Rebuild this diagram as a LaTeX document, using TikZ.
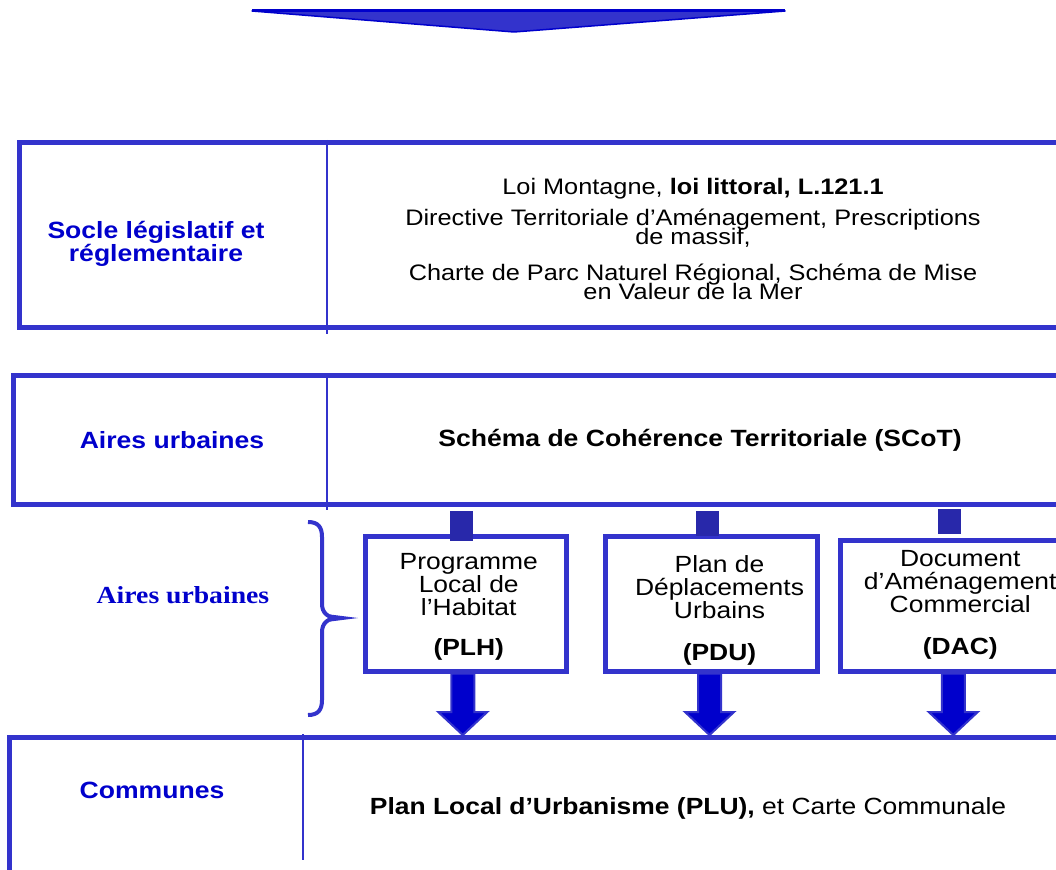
\documentclass[tikz,border=0pt]{standalone}
\usepackage{fontspec}
\setmainfont{Liberation Sans}[FakeStretch=1.13]
\newfontfamily\serifbf{Liberation Serif}[FakeStretch=1.13]
\usetikzlibrary{calc}
\definecolor{bandblue}{RGB}{51,51,204}
\definecolor{labelblue}{RGB}{0,0,204}
\definecolor{tabblue}{RGB}{40,40,170}
\newcommand{\tightlines}{\lineskiplimit=-100pt\relax}

\begin{document}
\begin{tikzpicture}[x=1pt,y=-1pt,font=\fontsize{23.4}{23}\selectfont\tightlines,
  band/.style={draw=bandblue,line width=5pt,inner sep=0pt},
  doc/.style={draw=bandblue,line width=5pt,inner sep=0pt,minimum height=135pt},
  doctxt/.style={align=center,inner sep=0pt},
  lbl/.style={text=labelblue,font=\fontsize{23.5}{23.5}\selectfont\tightlines\bfseries,align=center},
  divider/.style={draw=bandblue,line width=2.5pt},
  blockarr/.style={fill=labelblue,draw=bandblue,line width=2pt,line join=miter},
  tab/.style={fill=tabblue}]
  \useasboundingbox (0,0) rectangle (1056,869);
  \clip (0,0) rectangle (1056,869);

  % arrow on top
  \filldraw[fill=bandblue,draw=labelblue,line width=1.5pt,line join=round] (252,11) -- (785,11) -- (514,32) -- cycle;
  \draw[labelblue,line width=3pt] (252,11) -- (785,11);

  % bands
  \node[band,minimum width=1045.5pt,minimum height=185pt] (socle) at (542.25,235) {};
  \node[band,minimum width=1051.5pt,minimum height=129pt] (aires) at (539.25,440) {};
  \node[band,minimum width=1055.5pt,minimum height=147.5pt] (comm) at (537.25,811.25) {};
  \draw[divider] (327,140) -- (327,334);
  \draw[divider] (327,373) -- (327,510);
  \draw[divider] (303,734) -- (303,860);

  % labels left
  \node[lbl] (lsocle) at (156,244) {Socle législatif et\\réglementaire};
  \node[lbl] (laires) at (172,440) {Aires urbaines};
  \node[lbl,font=\fontsize{24.5}{25}\serifbf\bfseries] (lbrace) at (183,595) {Aires urbaines};
  \node[lbl] (lcomm) at (152,790) {Communes};

  % texts right
  \node[align=center,font=\fontsize{22.4}{18.5}\selectfont\tightlines] (tsocle) at (693,239)
    {Loi Montagne, \textbf{loi littoral, L.121.1}\\[12.5pt]
     Directive Territoriale d’Aménagement, Prescriptions\\de massif,\\[18pt]
     Charte de Parc Naturel Régional, Schéma de Mise\\en Valeur de la Mer};
  \node[font=\fontsize{23.5}{23}\selectfont\bfseries] (scot) at (700,440) {Schéma de Cohérence Territoriale (SCoT)};
  \node (plu) at (688,808) {\textbf{Plan Local d’Urbanisme (PLU),} et Carte Communale};

  % documents
  \node[doc,minimum width=200.5pt] (plh) at (465.75,603.5) {};
  \node[doc,minimum width=212pt] (pdu) at (711.5,603.5) {};
  \node[doc,minimum width=239.5pt,minimum height=130.5pt] (dac) at (960.25,605.75) {};
  \node[doctxt] (plhtxt) at ($(plh)+(3,3.5)$) {Programme\\Local de\\l’Habitat\\[17pt]\textbf{(PLH)}};
  \node[doctxt] (pdutxt) at ($(pdu)+(8,6.5)$) {Plan de\\Déplacements\\Urbains\\[19pt]\textbf{(PDU)}};
  \node[doctxt] (dactxt) at ($(dac)+(0,-1)$) {Document\\d’Aménagement\\Commercial\\[19pt]\textbf{(DAC)}};

  % tabs under SCoT
  \foreach \n/\dl/\dr/\t/\b in {plh/-15.75/7.25/-22.5/7.5,pdu/-15.5/7.5/-22.5/2.5,dac/-22.25/0.75/-29/-4}
    \fill[tab] ($(\n.north)+(\dl,\t)$) rectangle ($(\n.north)+(\dr,\b)$);

  % arrows down to the communes
  \foreach \n/\dx in {plh/-3,pdu/-2,dac/-7}
    \draw[blockarr] ($(\n.south)+(\dx-11.5,0)$) -- ++(0,38.5) -- ++(-13,0) -- ++(24.5,23)
      -- ++(24.5,-23) -- ++(-13,0) -- ++(0,-38.5) -- cycle;

  % brace
  \draw[bandblue,line width=4pt] (308,522) .. controls (318,522) and (322,527) .. (322,537)
    -- (322,604) .. controls (322,613) and (328,618) .. (338,618);
  \draw[bandblue,line width=4pt] (338,618) .. controls (328,618) and (322,623) .. (322,632)
    -- (322,700) .. controls (322,710) and (318,715) .. (308,715);
  \fill[bandblue] (330,614.5) -- (358,618) -- (330,621.5) -- cycle;
\end{tikzpicture}
\end{document}
